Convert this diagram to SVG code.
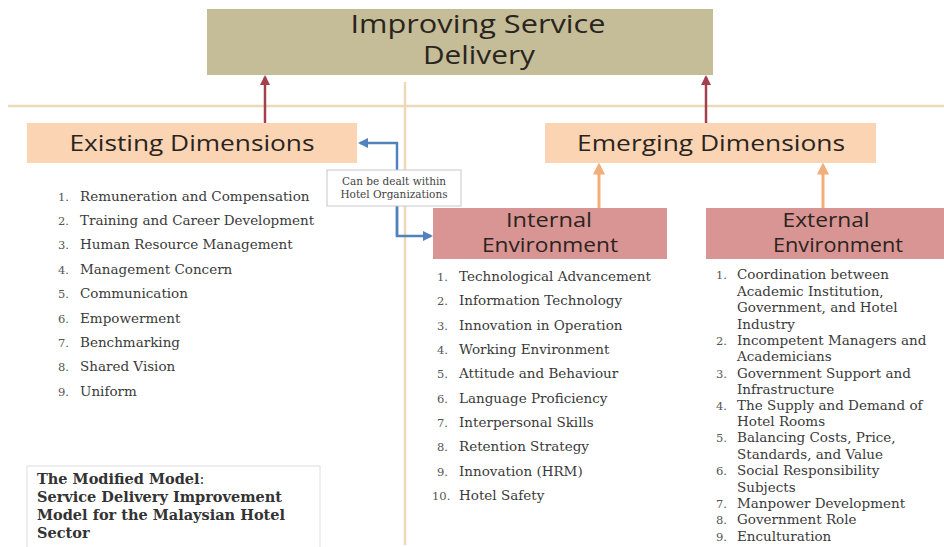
<svg xmlns="http://www.w3.org/2000/svg" width="944" height="547" viewBox="0 0 944 547">
<style>
.head{font-family:"Open Sans","Liberation Sans",sans-serif;fill:#2a2420;text-anchor:middle}
.li{font-family:"DejaVu Serif","Liberation Serif",serif;font-size:13.5px;fill:#3a3a3a}
.num{font-family:"DejaVu Serif","Liberation Serif",serif;font-size:11.5px;fill:#555}
.cap{font-family:"DejaVu Serif","Liberation Serif",serif;font-size:14.5px;fill:#333}
.tan{stroke:#edd9b8;stroke-width:2.5;fill:none}
.red{stroke:#a3404d;stroke-width:2.5;fill:none}
.org{stroke:#f2ad78;stroke-width:3;fill:none}
.blu{stroke:#5282bd;stroke-width:2.5;fill:none}
</style>
<defs>
<marker id="mr" viewBox="0 0 10 10" refX="8" refY="5" markerWidth="4" markerHeight="4" orient="auto"><path d="M0,0 L10,5 L0,10 z" fill="#a3404d"/></marker>
<marker id="mo" viewBox="0 0 10 10" refX="8" refY="5" markerWidth="4" markerHeight="4" orient="auto"><path d="M0,0 L10,5 L0,10 z" fill="#f2ad78"/></marker>
<marker id="mb" viewBox="0 0 10 10" refX="8" refY="5" markerWidth="4" markerHeight="4" orient="auto"><path d="M0,0 L10,5 L0,10 z" fill="#5282bd"/></marker>
</defs>
<rect width="944" height="547" fill="#ffffff"/>
<g id="guides">
<line class="tan" x1="8" y1="106" x2="944" y2="106"/>
<line class="tan" x1="405" y1="82" x2="405" y2="545"/>
</g>
<g id="top">
<rect x="207" y="9" width="506" height="66" fill="#c4bd97"/>
<text class="head" x="478" y="33" font-size="25" textLength="255" lengthAdjust="spacingAndGlyphs">Improving Service</text>
<text class="head" x="479" y="64" font-size="25" textLength="112" lengthAdjust="spacingAndGlyphs">Delivery</text>
</g>
<g id="existing">
<rect x="27" y="123" width="330" height="40" fill="#fbd4b4"/>
<text class="head" x="192" y="151" font-size="22.5" textLength="245" lengthAdjust="spacingAndGlyphs">Existing Dimensions</text>
</g>
<g id="emerging">
<rect x="545" y="123" width="331" height="40" fill="#fbd4b4"/>
<text class="head" x="711" y="151" font-size="22.5" textLength="268" lengthAdjust="spacingAndGlyphs">Emerging Dimensions</text>
</g>
<g id="internal">
<rect x="433" y="208" width="234" height="51" fill="#d99594"/>
<text class="head" x="549" y="227" font-size="20" textLength="86" lengthAdjust="spacingAndGlyphs">Internal</text>
<text class="head" x="550" y="252" font-size="20" textLength="136" lengthAdjust="spacingAndGlyphs">Environment</text>
</g>
<g id="external">
<rect x="706" y="208" width="238" height="51" fill="#d99594"/>
<text class="head" x="826" y="227" font-size="20" textLength="87" lengthAdjust="spacingAndGlyphs">External</text>
<text class="head" x="838" y="252" font-size="20" textLength="130" lengthAdjust="spacingAndGlyphs">Environment</text>
</g>
<g id="connectors">
<line class="red" x1="265" y1="123" x2="265" y2="77" marker-end="url(#mr)"/>
<line class="red" x1="706" y1="123" x2="706" y2="77" marker-end="url(#mr)"/>
<line class="org" x1="599" y1="208" x2="599" y2="165" marker-end="url(#mo)"/>
<line class="org" x1="823" y1="208" x2="823" y2="165" marker-end="url(#mo)"/>
<path class="blu" d="M397,236 L397,143 L360,143" marker-end="url(#mb)"/>
<path class="blu" d="M397,200 L397,236 L431,236" marker-end="url(#mb)"/>
</g>
<g id="label">
<rect x="327" y="170" width="134" height="36" fill="#ffffff" stroke="#c8c8c8" stroke-width="1"/>
<text x="394" y="185" font-family="DejaVu Serif, Liberation Serif, serif" font-size="10.5" fill="#444" text-anchor="middle">Can be dealt within</text>
<text x="394" y="198" font-family="DejaVu Serif, Liberation Serif, serif" font-size="10.5" fill="#444" text-anchor="middle">Hotel Organizations</text>
</g>
<g id="existing-list">
<text class="num" x="58" y="201">1.</text><text class="li" x="80" y="201">Remuneration and Compensation</text>
<text class="num" x="58" y="225">2.</text><text class="li" x="80" y="225">Training and Career Development</text>
<text class="num" x="58" y="249">3.</text><text class="li" x="80" y="249">Human Resource Management</text>
<text class="num" x="58" y="274">4.</text><text class="li" x="80" y="274">Management Concern</text>
<text class="num" x="58" y="298">5.</text><text class="li" x="80" y="298">Communication</text>
<text class="num" x="58" y="323">6.</text><text class="li" x="80" y="323">Empowerment</text>
<text class="num" x="58" y="347">7.</text><text class="li" x="80" y="347">Benchmarking</text>
<text class="num" x="58" y="371">8.</text><text class="li" x="80" y="371">Shared Vision</text>
<text class="num" x="58" y="396">9.</text><text class="li" x="80" y="396">Uniform</text>
</g>
<g id="internal-list">
<text class="num" x="437" y="281">1.</text><text class="li" x="459" y="281">Technological Advancement</text>
<text class="num" x="437" y="305">2.</text><text class="li" x="459" y="305">Information Technology</text>
<text class="num" x="437" y="330">3.</text><text class="li" x="459" y="330">Innovation in Operation</text>
<text class="num" x="437" y="354">4.</text><text class="li" x="459" y="354">Working Environment</text>
<text class="num" x="437" y="378">5.</text><text class="li" x="459" y="378">Attitude and Behaviour</text>
<text class="num" x="437" y="403">6.</text><text class="li" x="459" y="403">Language Proficiency</text>
<text class="num" x="437" y="427">7.</text><text class="li" x="459" y="427">Interpersonal Skills</text>
<text class="num" x="437" y="451">8.</text><text class="li" x="459" y="451">Retention Strategy</text>
<text class="num" x="437" y="476">9.</text><text class="li" x="459" y="476">Innovation (HRM)</text>
<text class="num" x="432" y="500">10.</text><text class="li" x="459" y="500">Hotel Safety</text>
</g>
<g id="external-list">
<text class="num" x="716" y="279">1.</text><text class="li" x="737" y="279">Coordination between</text>
<text class="li" x="737" y="296">Academic Institution,</text>
<text class="li" x="737" y="312">Government, and Hotel</text>
<text class="li" x="737" y="329">Industry</text>
<text class="num" x="716" y="345">2.</text><text class="li" x="737" y="345">Incompetent Managers  and</text>
<text class="li" x="737" y="361">Academicians</text>
<text class="num" x="716" y="378">3.</text><text class="li" x="737" y="378">Government Support and</text>
<text class="li" x="737" y="394">Infrastructure</text>
<text class="num" x="716" y="410">4.</text><text class="li" x="737" y="410">The Supply and Demand of</text>
<text class="li" x="737" y="426">Hotel Rooms</text>
<text class="num" x="716" y="442">5.</text><text class="li" x="737" y="442">Balancing Costs, Price,</text>
<text class="li" x="737" y="459">Standards, and Value</text>
<text class="num" x="716" y="475">6.</text><text class="li" x="737" y="475">Social Responsibility</text>
<text class="li" x="737" y="492">Subjects</text>
<text class="num" x="716" y="508">7.</text><text class="li" x="737" y="508">Manpower Development</text>
<text class="num" x="716" y="524">8.</text><text class="li" x="737" y="524">Government Role</text>
<text class="num" x="716" y="541">9.</text><text class="li" x="737" y="541">Enculturation</text>
</g>
<g id="caption">
<rect x="27" y="466" width="293" height="90" fill="#ffffff" stroke="#dddddd" stroke-width="1"/>
<text class="cap" x="37" y="484"><tspan font-weight="bold">The Modified Model</tspan>:</text>
<text class="cap" x="37" y="502" font-weight="bold">Service Delivery Improvement</text>
<text class="cap" x="37" y="520" font-weight="bold">Model for the Malaysian Hotel</text>
<text class="cap" x="37" y="538" font-weight="bold">Sector</text>
</g>
</svg>
